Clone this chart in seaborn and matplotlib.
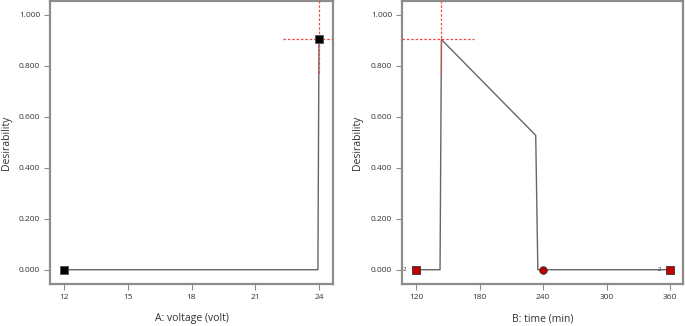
import matplotlib
matplotlib.use("Agg")
import matplotlib.pyplot as plt
import seaborn as sns
import pandas as pd

sns.set_theme(style="white")
plt.rcParams['font.family'] = ['Open Sans', 'DejaVu Sans']

# Panel A: voltage
volt_x = [12, 23.95, 24]
volt_y = [0.0, 0.0, 0.903]
volt_pts_x = [12, 24]
volt_pts_y = [0.0, 0.903]
volt_ticks = [12, 15, 18, 21, 24]
volt_opt = (24, 0.903)

# Panel B: time
time_x = [120, 142.7, 144, 233, 235, 360]
time_y = [0.0, 0.0, 0.903, 0.527, 0.0, 0.0]
time_sq_x = [120, 360]
time_sq_y = [0.0, 0.0]
time_circ_x = [240]
time_circ_y = [0.0]
time_ticks = [120, 180, 240, 300, 360]
time_opt = (144, 0.903)

y_ticks = [0.0, 0.2, 0.4, 0.6, 0.8, 1.0]

fig = plt.figure(figsize=(6.85, 3.26), dpi=100)
ax1 = fig.add_axes([50/685, 42/326, 283/685, 283/326])
ax2 = fig.add_axes([402/685, 42/326, 281/685, 283/326])

frame_col = '#8c8c8c'
red = '#c00000'
cross = '#f04848'

def style(ax, xt, xlabel, xlim, ylab_x):
    ax.set_xlim(*xlim)
    ax.set_ylim(-0.056, 1.054)
    ax.set_xticks(xt)
    ax.set_xticklabels([str(t) for t in xt], fontsize=6, color='#333333')
    ax.set_yticks(y_ticks)
    ax.set_yticklabels([f"{v:.3f}" for v in y_ticks], fontsize=6, color='#333333')
    ax.tick_params(axis='both', direction='out', length=4, width=0.8, color=frame_col,
                   bottom=True, left=True, pad=3)
    for s in ax.spines.values():
        s.set_color(frame_col)
        s.set_linewidth(1.6)
    ax.set_xlabel(xlabel, fontsize=7.5, color='#333333', labelpad=9)
    ax.set_ylabel("Desirability", fontsize=7.5, color='#333333', va='center')
    ax.yaxis.set_label_coords(ylab_x, 0.5)
    ax.grid(False)

# Panel A
sns.lineplot(x=volt_x, y=volt_y, ax=ax1, color='#666666', linewidth=1.0, sort=False,
             estimator=None)
ax1.axhline(volt_opt[1], xmin=(22.3 - 11.34)/(24.66 - 11.34), xmax=1, color=cross,
            linestyle=(0, (2, 1.5)), linewidth=0.9, zorder=3)
ax1.axvline(volt_opt[0], ymin=(0.77 + 0.056)/1.11, ymax=1, color=cross,
            linestyle=(0, (2, 1.5)), linewidth=0.9, zorder=3)
sns.scatterplot(x=volt_pts_x, y=volt_pts_y, ax=ax1, marker='s', s=30, color='black',
                edgecolor='#555555', linewidth=0.6, zorder=5)
style(ax1, volt_ticks, "A: voltage (volt)", (11.34, 24.66), -0.155)

# Panel B
sns.lineplot(x=time_x, y=time_y, ax=ax2, color='#666666', linewidth=1.0, sort=False,
             estimator=None)
ax2.axhline(time_opt[1], xmin=0, xmax=(175 - 106.8)/(372 - 106.8), color=cross,
            linestyle=(0, (2, 1.5)), linewidth=0.9, zorder=3)
ax2.axvline(time_opt[0], ymin=(0.77 + 0.056)/1.11, ymax=1, color=cross,
            linestyle=(0, (2, 1.5)), linewidth=0.9, zorder=3)
sns.scatterplot(x=time_sq_x, y=time_sq_y, ax=ax2, marker='s', s=30, color=red,
                edgecolor='#333333', linewidth=0.6, zorder=5)
sns.scatterplot(x=time_circ_x, y=time_circ_y, ax=ax2, marker='o', s=30, color=red,
                edgecolor='#333333', linewidth=0.6, zorder=5)
for xv, yv in zip(time_sq_x, time_sq_y):
    ax2.annotate("2", (xv, yv), xytext=(-8, 0), textcoords='offset points',
                 fontsize=4.5, color='#333333', ha='center', va='center')
style(ax2, time_ticks, "B: time (min)", (106.8, 372), -0.158)

fig.savefig("out.png", dpi=100)
